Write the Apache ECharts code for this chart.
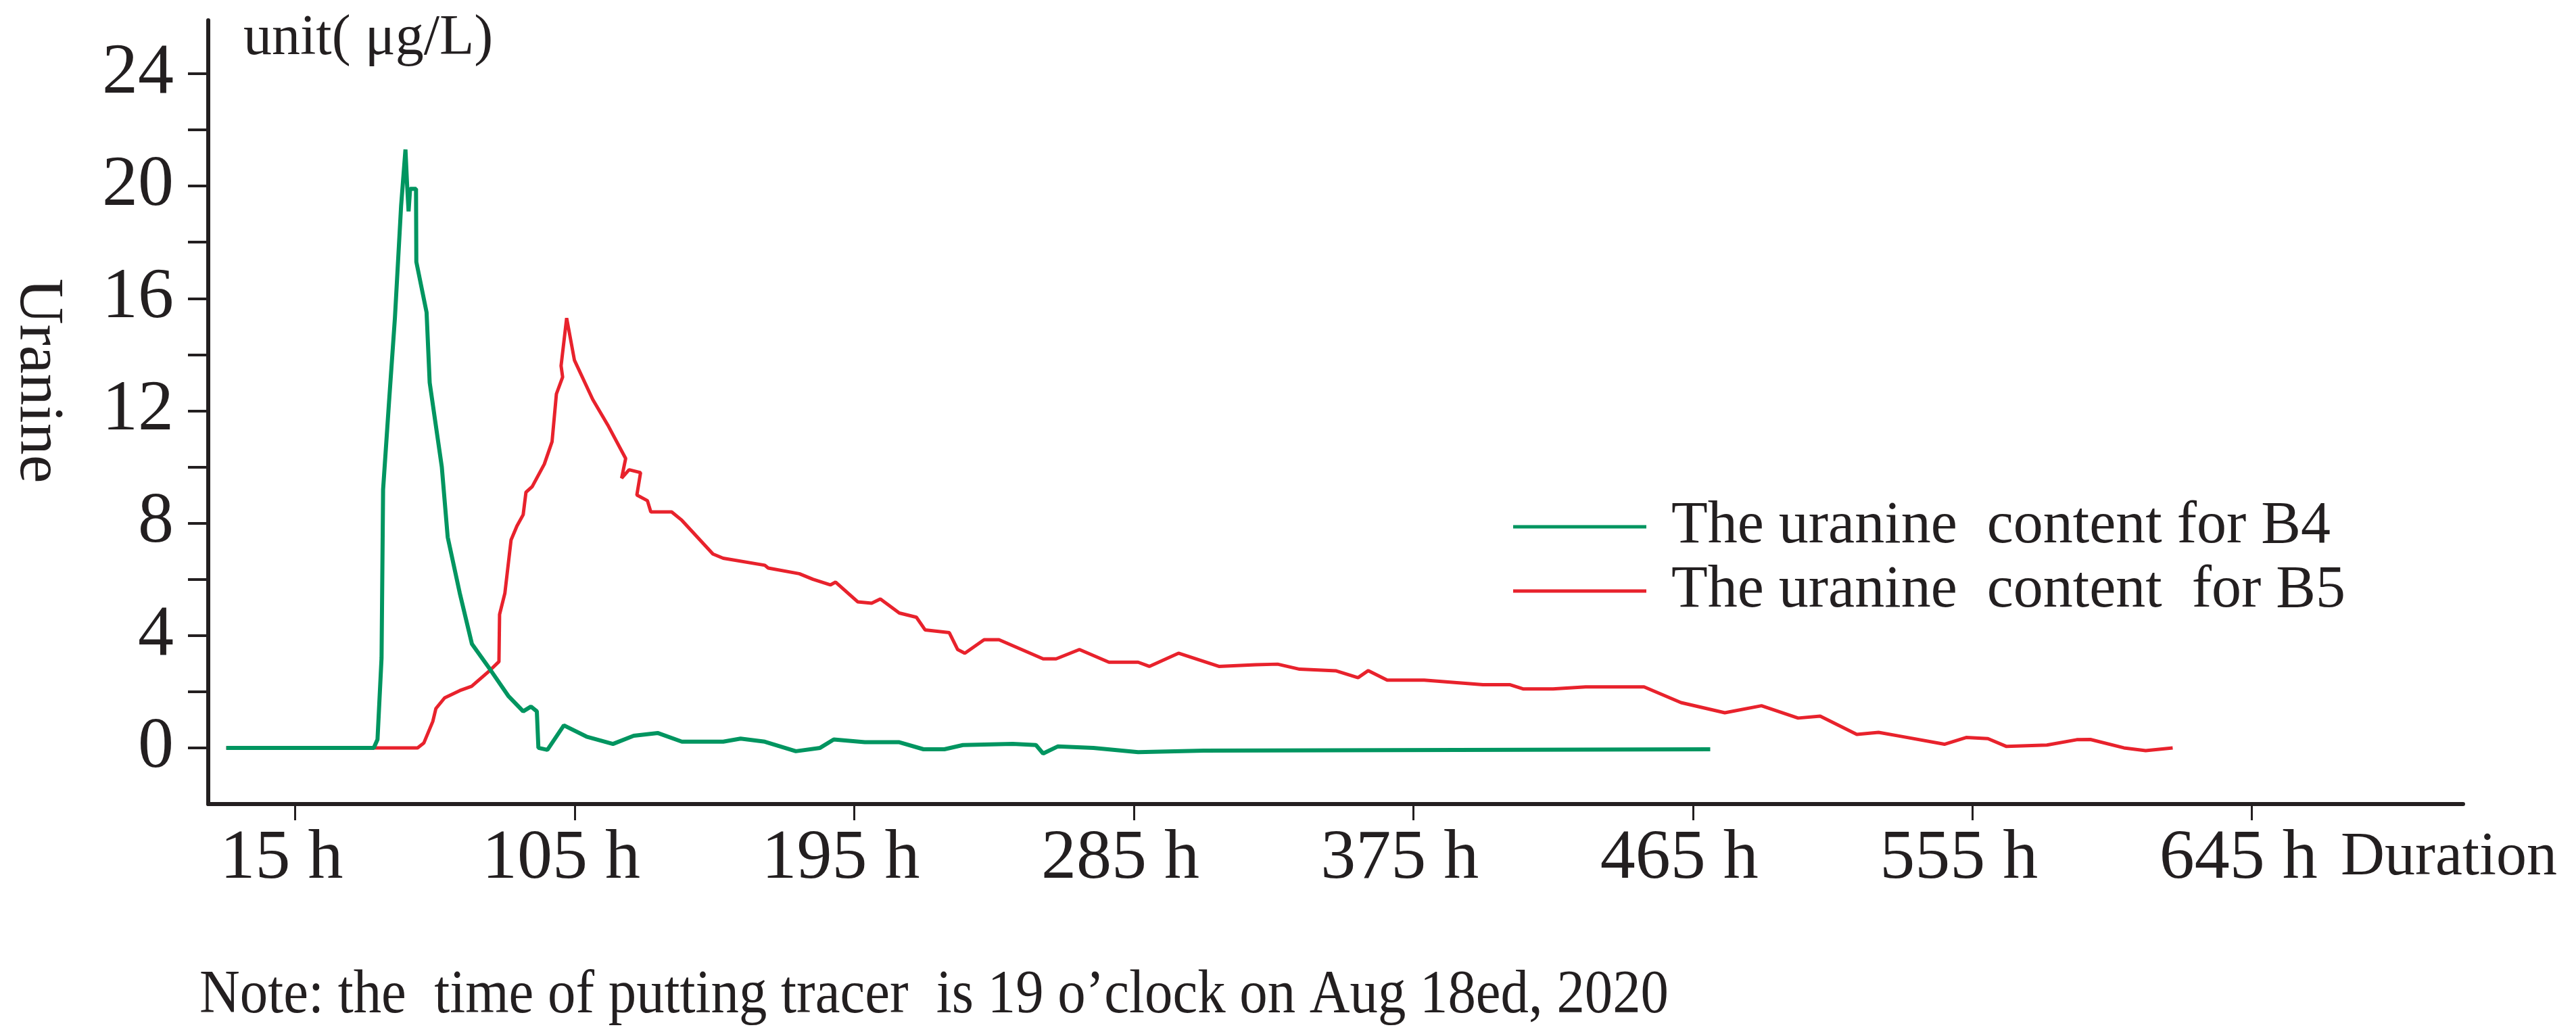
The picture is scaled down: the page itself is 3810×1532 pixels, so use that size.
<!DOCTYPE html>
<html>
<head>
<meta charset="utf-8">
<script src="https://cdn.jsdelivr.net/npm/echarts@6/dist/echarts.min.js"></script>
<style>
  html, body { margin: 0; padding: 0; background: #fff; }
  #chart { width: 3810px; height: 1532px; }
</style>
</head>
<body>
<div id="chart"></div>
<script>
// 时间轴刻度（小时）
const xTickHours = [15, 105, 195, 285, 375, 465, 555, 645]
const xTickLabels = ['15 h', '105 h', '195 h', '285 h', '375 h', '465 h', '555 h', '645 h']
const yTickValues = [0, 2, 4, 6, 8, 10, 12, 14, 16, 18, 20, 22, 24]
const yLabelValues = [0, 4, 8, 12, 16, 20, 24]

// B4 曲线
const b4Hours = [-7.2, 40.3, 41.5, 42.8, 43.3, 45.2, 47.1, 49.1, 50.5, 51, 51.5, 52, 53.9, 54,
  57.3, 58.3, 62.2, 64.1, 68, 71.9, 77.7, 83.6, 88.4, 90.9, 92.8, 93.3, 96.2, 101.5, 108.8,
  117.3, 124, 131.7, 139.5, 152.8, 158.4, 166.2, 176.2, 184, 188.4, 198.4, 209.5, 217.3, 224,
  230, 246, 253.5, 255.8, 260.5, 272, 286.4, 307.6, 470.6]
const b4Values = [0, 0, 0.3, 3.2, 9.2, 12.3, 15.3, 19.3, 21.3, 20.1, 19.1, 19.9, 19.9, 17.3,
  15.5, 13.0, 10.0, 7.5, 5.5, 3.7, 2.8, 1.85, 1.3, 1.47, 1.3, 0, -0.07, 0.8, 0.4,
  0.14, 0.43, 0.53, 0.22, 0.22, 0.33, 0.22, -0.12, 0, 0.3, 0.2, 0.2, -0.05, -0.05,
  0.1, 0.14, 0.1, -0.2, 0.05, 0, -0.15, -0.1, -0.05]

// B5 曲线
const b5Hours = [-7.2, 54.4, 56.4, 59.3, 60.3, 63.1, 68, 71.8, 77.7, 80.6, 80.8, 82.5, 84.5,
  86.4, 88.4, 89.3, 91.3, 95.2, 97.7, 99.1, 101.1, 100.6, 102.4, 104.9, 110.8, 115.6, 121.4,
  120.1, 122.5, 126.2, 125, 128.4, 129.5, 136.2, 139.5, 149.5, 152.8, 166.2, 167.3, 177.3,
  181.7, 187.3, 189, 196.1, 200.6, 203.4, 209.5, 215, 217.8, 225.6, 228.3, 230.6, 236.8,
  241.6, 255.8, 260, 267.5, 277, 286.4, 290, 299.4, 312.4, 324.2, 331.3, 338.4, 350.2,
  357.2, 360.5, 366.6, 378.5, 397.4, 406, 410.3, 420, 430.5, 449.3, 461.2, 475.3, 487.1,
  498.9, 506, 517.8, 524.8, 532, 546, 553, 560, 566, 579, 588.6, 593, 603.8, 610.8, 619.5]
const b5Values = [0, 0, 0.17, 0.94, 1.4, 1.78, 2.04, 2.19, 2.76, 3.07, 4.75, 5.5, 7.4,
  7.9, 8.3, 9.1, 9.3, 10.1, 10.9, 12.6, 13.2, 13.6, 15.3, 13.8, 12.4, 11.5, 10.3,
  9.6, 9.9, 9.8, 9.0, 8.8, 8.4, 8.4, 8.1, 6.9, 6.75, 6.5, 6.4, 6.2,
  6.0, 5.8, 5.9, 5.2, 5.15, 5.3, 4.8, 4.65, 4.2, 4.1, 3.5, 3.37, 3.85,
  3.85, 3.17, 3.17, 3.5, 3.05, 3.05, 2.9, 3.37, 2.9, 2.96, 2.98, 2.8, 2.74,
  2.5, 2.75, 2.41, 2.41, 2.25, 2.25, 2.1, 2.1, 2.17, 2.17, 1.61, 1.25, 1.5,
  1.06, 1.13, 0.48, 0.55, 0.41, 0.13, 0.37, 0.33, 0.05, 0.1, 0.29, 0.3, 0, -0.1, 0]

const seriesNames = ['The uranine  content for B4', 'The uranine  content  for B5']

const FONT = '"Liberation Serif", "Times New Roman", serif'
const INK = '#231f20'
const GREEN = '#009560'
const RED = '#e8222c'

const zip = (xs, ys) => xs.map((x, i) => [x, ys[i]])

const chart = echarts.init(document.getElementById('chart'))

const option = {
  backgroundColor: '#ffffff',
  animation: false,
  textStyle: { fontFamily: FONT, color: INK },
  grid: {
    left: 308,
    right: 167,
    top: 30,
    bottom: 343,
    containLabel: false,
    outerBoundsMode: 'none'
  },
  legend: {
    orient: 'vertical',
    left: 2233,
    top: 730,
    icon: 'rect',
    itemWidth: 197,
    itemHeight: 5,
    itemGap: 7,
    data: seriesNames,
    textStyle: {
      fontFamily: FONT,
      fontSize: 88,
      lineHeight: 80,
      color: INK,
      padding: [0, 0, 0, 32]
    }
  },
  xAxis: {
    type: 'value',
    min: -13,
    max: 713,
    splitLine: { show: false },
    axisLine: { onZero: false, lineStyle: { color: INK, width: 6 } },
    axisTick: {
      customValues: xTickHours,
      length: 24,
      lineStyle: { color: INK, width: 3 }
    },
    axisLabel: {
      customValues: xTickHours,
      formatter: v => xTickLabels[xTickHours.indexOf(v)],
      margin: 30,
      fontFamily: FONT,
      fontSize: 104,
      color: INK,
      padding: [0, 40, 0, 0]
    }
  },
  yAxis: {
    type: 'value',
    min: -2,
    max: 25.9,
    splitLine: { show: false },
    axisLine: { onZero: false, lineStyle: { color: INK, width: 6 } },
    axisTick: {
      customValues: yTickValues,
      length: 30,
      lineStyle: { color: INK, width: 4 }
    },
    axisLabel: {
      customValues: yLabelValues,
      margin: 51,
      fontFamily: FONT,
      fontSize: 106,
      color: INK
    }
  },
  graphic: [
    {
      type: 'text',
      left: 360,
      top: 16,
      style: { text: 'unit( μg/L)', font: '84px ' + FONT, fill: INK }
    },
    {
      type: 'text',
      x: 56,
      y: 563,
      rotation: -Math.PI / 2,
      style: {
        text: 'Uranine',
        font: '94px ' + FONT,
        fill: INK,
        textAlign: 'center',
        textVerticalAlign: 'middle'
      }
    },
    {
      type: 'text',
      left: 3462,
      top: 1224,
      style: { text: 'Duration', font: '90px ' + FONT, fill: INK }
    },
    {
      type: 'text',
      x: 295,
      y: 1473,
      scaleX: 0.92,
      style: {
        text: 'Note: the  time of putting tracer  is 19 o\u2019clock on Aug 18ed, 2020',
        font: '90px ' + FONT,
        fill: INK,
        textAlign: 'left',
        textVerticalAlign: 'middle'
      }
    }
  ],
  series: [
    {
      name: seriesNames[1],
      type: 'line',
      data: zip(b5Hours, b5Values),
      showSymbol: false,
      symbol: 'none',
      z: 2,
      lineStyle: { color: RED, width: 5 },
      itemStyle: { color: RED }
    },
    {
      name: seriesNames[0],
      type: 'line',
      data: zip(b4Hours, b4Values),
      showSymbol: false,
      symbol: 'none',
      z: 3,
      lineStyle: { color: GREEN, width: 6 },
      itemStyle: { color: GREEN }
    }
  ]
}

chart.setOption(option)

window.addEventListener('resize', () => {
  chart.resize()
})
</script>
</body>
</html>
